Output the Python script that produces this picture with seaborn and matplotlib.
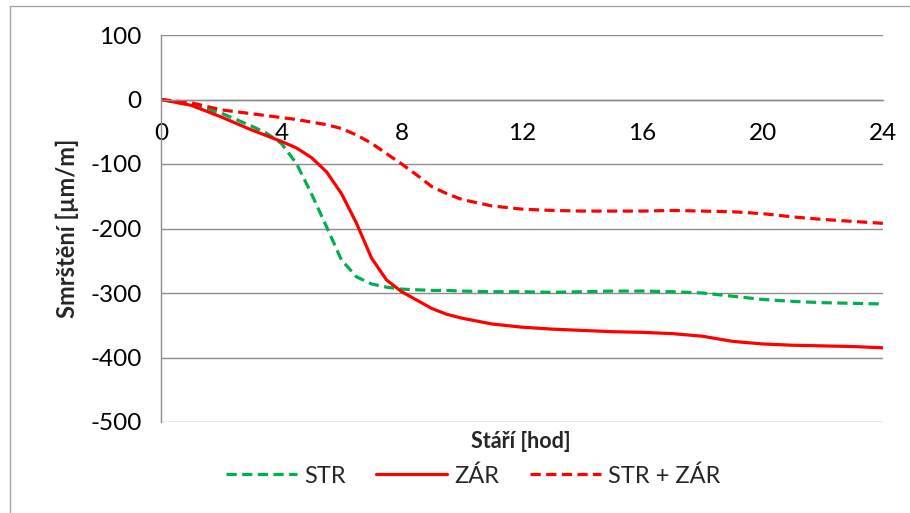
import matplotlib
matplotlib.use("Agg")
import matplotlib.pyplot as plt
from matplotlib.lines import Line2D
import seaborn as sns
import pandas as pd

# Age of the specimens [hours]
hours = [0, 1, 2, 3, 3.5, 4, 4.5, 5, 5.5, 6, 6.5, 7, 7.5, 8, 8.5, 9, 9.5, 10,
         11, 12, 13, 14, 15, 16, 17, 18, 19, 20, 21, 22, 23, 24]

# Shrinkage [µm/m]
str_vals = [0, -8, -21, -41, -52, -68, -99, -146, -197, -249, -275, -286, -291, -294,
            -295, -296, -296, -297, -298, -298, -299, -298, -297, -297, -298, -300,
            -305, -310, -313, -315, -316, -317]
zar_vals = [0, -9, -27, -47, -56, -65, -75, -90, -112, -146, -192, -246, -280, -298,
            -311, -324, -333, -339, -348, -353, -356, -358, -360, -361, -363, -367,
            -375, -379, -381, -382, -383, -385]
str_zar_vals = [0, -5, -16, -22, -25, -28, -31, -35, -39, -45, -55, -68, -84, -100,
                -117, -135, -146, -155, -165, -170, -172, -173, -173, -173, -172, -173,
                -174, -177, -182, -186, -189, -192]

series_names = ["STR", "ZÁR", "STR + ZÁR"]
x_ticks = [0, 4, 8, 12, 16, 20, 24]
y_ticks = [100, 0, -100, -200, -300, -400, -500]

df = pd.concat([
    pd.DataFrame({"hod": hours, "smrsteni": vals, "serie": name})
    for name, vals in zip(series_names, [str_vals, zar_vals, str_zar_vals])
], ignore_index=True)

sns.set_theme(style="white")
plt.rcParams["font.family"] = ["Lato", "DejaVu Sans"]

W, H = 910, 513
fig = plt.figure(figsize=(W / 100, H / 100), dpi=100)
ax = fig.add_axes([161 / W, 1 - 422 / H, (883 - 161) / W, (422 - 35) / H])

palette = {"STR": "#00B050", "ZÁR": "#FF0000", "STR + ZÁR": "#FF0000"}
dashes = {"STR": (3.2, 1.7), "ZÁR": "", "STR + ZÁR": (3.2, 1.7)}

sns.lineplot(data=df, x="hod", y="smrsteni", hue="serie", style="serie",
             hue_order=series_names, style_order=series_names,
             palette=palette, dashes=dashes, estimator=None, sort=False,
             linewidth=2.3, ax=ax, legend=True)

for ln in ax.get_lines():
    ln.set_solid_joinstyle("round")
    ln.set_dash_joinstyle("round")

grid_c = "#8c8c8c"
ax.set_xlim(0, 24)
ax.set_ylim(-500, 100)
ax.set_xticks(x_ticks)
ax.set_yticks(y_ticks)
ax.set_xticklabels([str(v) for v in x_ticks])
ax.set_yticklabels([str(v) for v in y_ticks])
ax.yaxis.grid(True, color=grid_c, linewidth=1.0)
ax.xaxis.grid(False)

for side in ["top", "right"]:
    ax.spines[side].set_visible(False)
ax.spines["bottom"].set_position(("data", 0))
ax.spines["bottom"].set_color(grid_c)
ax.spines["left"].set_color(grid_c)
ax.spines["bottom"].set_linewidth(1.0)
ax.spines["left"].set_linewidth(1.0)
ax.set_axisbelow(True)

ax.tick_params(axis="x", direction="out", length=7, width=1.0, color=grid_c,
               labelsize=17.5, labelcolor="black", pad=10)
ax.tick_params(axis="y", direction="out", length=8, width=1.0, color=grid_c,
               labelsize=17.5, labelcolor="black", pad=6)

ax.set_xlabel("")
ax.set_ylabel("Smrštění [µm/m]", fontsize=17, fontweight="bold", labelpad=8)
fig.text(521 / W, 1 - 441 / H, "Stáří [hod]", ha="center", va="center",
         fontsize=15.5, fontweight="bold")

handles, labels = ax.get_legend_handles_labels()
if ax.legend_:
    ax.legend_.remove()
leg = fig.legend(handles, labels, loc="center", ncol=3, frameon=False,
                 bbox_to_anchor=(473 / W, 1 - 476 / H),
                 fontsize=17, handlelength=3.0, handletextpad=0.3,
                 columnspacing=1.3)

# Chart area border (left and top edges visible)
border_c = "#a6a6a6"
fig.add_artist(Line2D([10 / W, 10 / W], [1 - 6 / H, 0], transform=fig.transFigure,
                      color=border_c, linewidth=1.0))
fig.add_artist(Line2D([10 / W, 1], [1 - 6 / H, 1 - 6 / H], transform=fig.transFigure,
                      color=border_c, linewidth=1.0))

fig.savefig("out.png", dpi=100, facecolor="white")
